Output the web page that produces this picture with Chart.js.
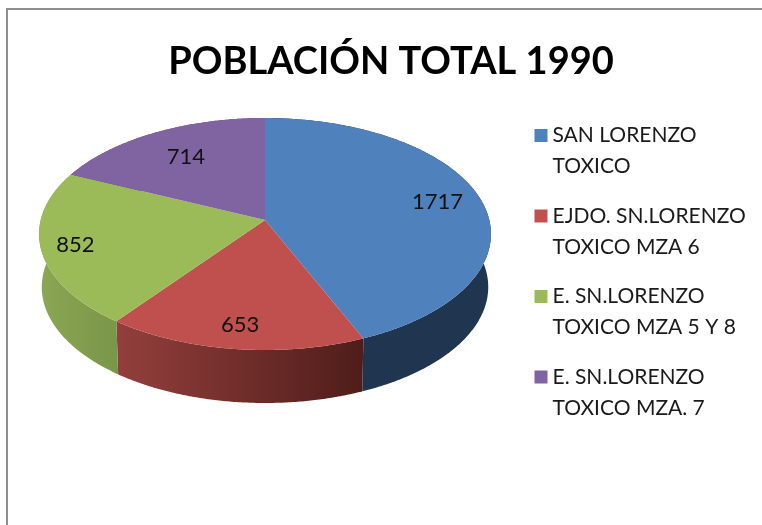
<!DOCTYPE html>
<html><head><meta charset="utf-8">
<script src="https://cdn.jsdelivr.net/npm/chart.js@4/dist/chart.umd.min.js"></script>
<style>
html,body{margin:0;padding:0;background:#fff;overflow:hidden}
#wrap{position:relative;width:762px;height:525px;overflow:hidden}
#frame{position:absolute;left:6px;top:8px;width:900px;height:700px;border:2px solid #8e8e8e;box-sizing:border-box}
canvas{position:absolute;left:0;top:0}
</style></head><body>
<div id="wrap"><div id="frame"></div><canvas id="c" width="762" height="525"></canvas></div>
<script>
const categories = [["SAN LORENZO","TOXICO"],["EJDO. SN.LORENZO","TOXICO MZA 6"],["E. SN.LORENZO","TOXICO MZA 5 Y 8"],["E. SN.LORENZO","TOXICO MZA. 7"]];
const values = [1717,653,852,714];
const colors = ["#4f81bd","#c0504d","#9bbb59","#8064a2"];
const sideStart = ["#1f3550","#933f3c","#8aa754","#5d4878"];
const sideEnd   = ["#1f3550","#4f1d1a","#7a9648","#5d4878"];
const labelRadius = [0.8,0.83,0.85,0.7];
const chartTitle = "POBLACIÓN TOTAL 1990";
const FONT = "Lato, 'Open Sans', sans-serif";

// projection of the flat pie onto the tilted disc
const CX=265, CY=220, A=224.3, B=114.3, K=0.1207, DEPTH=53, SHRINK=0.988;
function proj(theta,f){
  const u=Math.cos(theta)*f, v=Math.sin(theta)*f, d=1-K*v;
  return [CX+A*u/d, CY+B*v/d];
}
const pie3d={
  id:'pie3d',
  afterLayout(chart){
    const l=chart.legend;
    l.left=540-l.options.labels.padding; l.top=125-l.options.labels.padding;
    l.right=790; l.bottom=l.top+340;
  },
  beforeDatasetsDraw(chart){
    const ctx=chart.ctx, arcs=chart.getDatasetMeta(0).data;
    const step=Math.PI/180/2;
    // side walls
    arcs.forEach((a,i)=>{
      const s=a.startAngle,e=a.endAngle,top=[],bot=[];
      for(let t=s;t<e;t+=step){top.push(proj(t,1));}
      top.push(proj(e,1));
      top.forEach(p=>bot.push([CX+(p[0]-CX)*SHRINK,p[1]+DEPTH]));
      const xs=top.map(p=>p[0]);
      const g=ctx.createLinearGradient(Math.min(...xs),0,Math.max(...xs),0);
      g.addColorStop(0,sideStart[i]);g.addColorStop(1,sideEnd[i]);
      ctx.beginPath();
      top.forEach((p,j)=>j?ctx.lineTo(p[0],p[1]):ctx.moveTo(p[0],p[1]));
      bot.reverse().forEach(p=>ctx.lineTo(p[0],p[1]));
      ctx.closePath();ctx.fillStyle=g;ctx.fill();
    });
    // top surface
    arcs.forEach((a)=>{
      ctx.beginPath();ctx.moveTo(CX,CY);
      for(let t=a.startAngle;t<a.endAngle;t+=step){const p=proj(t,1);ctx.lineTo(p[0],p[1]);}
      const p=proj(a.endAngle,1);ctx.lineTo(p[0],p[1]);
      ctx.closePath();ctx.fillStyle=a.options.backgroundColor;ctx.fill();
    });
    return false;
  },
  afterDraw(chart){
    const ctx=chart.ctx, arcs=chart.getDatasetMeta(0).data;
    ctx.save();ctx.fillStyle="#111";ctx.font="22px "+FONT;ctx.textAlign="center";ctx.textBaseline="middle";
    arcs.forEach((a,i)=>{
      const p=proj((a.startAngle+a.endAngle)/2,labelRadius[i]);
      ctx.fillText(String(values[i]),p[0],p[1]);
    });
    ctx.restore();
  }
};
new Chart(document.getElementById('c'),{
  type:'pie',
  data:{labels:categories,datasets:[{data:values,backgroundColor:colors,borderWidth:0}]},
  plugins:[pie3d],
  options:{
    responsive:false,animation:false,
    layout:{padding:{left:20,top:0,right:0,bottom:0}},
    plugins:{
      tooltip:{enabled:false},
      title:{display:true,text:chartTitle,color:"#000",font:{family:FONT,size:38,weight:'bold',lineHeight:1.2},padding:{top:39,bottom:8}},
      legend:{position:'right',align:'start',labels:{
        usePointStyle:true,pointStyle:'rect',boxWidth:2,boxHeight:13,padding:18.5,color:"#1a1a1a",
        font:{family:FONT,size:21,lineHeight:31/21}
      }}
    }
  }
});
</script>
</body></html>
